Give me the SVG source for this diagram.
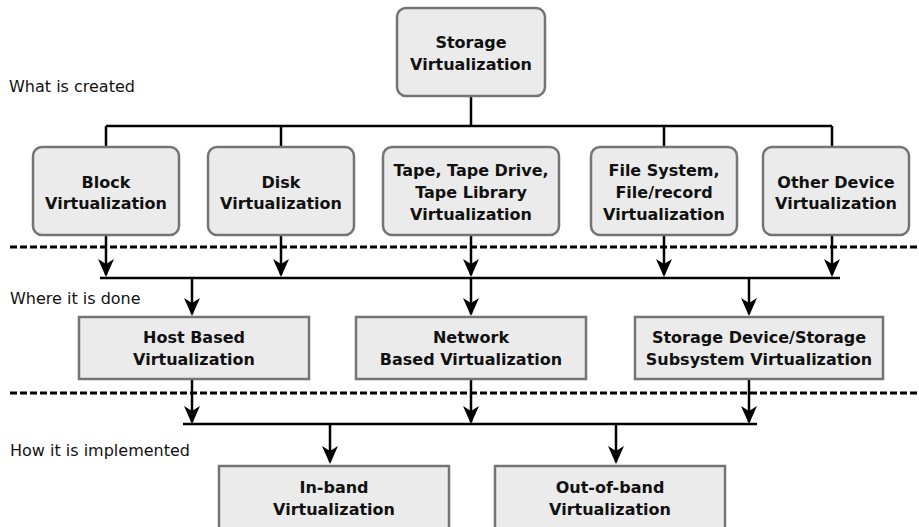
<svg xmlns="http://www.w3.org/2000/svg" width="919" height="527" viewBox="0 0 919 527">
<style>
.box{fill:#ebebeb;stroke:#747474;stroke-width:2.5}
.t{font-family:"DejaVu Sans",Verdana,sans-serif;font-weight:bold;font-size:16px;fill:#111;text-anchor:middle}
.lbl{font-family:"DejaVu Sans",Verdana,sans-serif;font-size:16px;fill:#111}
.ln{stroke:#000;stroke-width:2.5;fill:none}
.dash{stroke:#000;stroke-width:2.8;stroke-dasharray:7 3;fill:none}
</style>
<defs>
<marker id="ah" markerUnits="userSpaceOnUse" viewBox="0 0 18 16" refX="16" refY="8" markerWidth="18" markerHeight="16" orient="auto">
<path d="M0,0 L18,8 L0,16 L5,8 z" fill="#000"/>
</marker>
</defs>
<g id="labels">
<text class="lbl" x="9" y="92">What is created</text>
<text class="lbl" x="10" y="304">Where it is done</text>
<text class="lbl" x="10" y="456">How it is implemented</text>
</g>
<g id="connectors">
<path class="dash" d="M10,247 H919"/>
<path class="dash" d="M10,393 H919"/>
<path class="ln" d="M471,96 V126 M106,126 H832 M106,126 V147 M281,126 V147 M664,126 V147 M832,126 V147"/>
<path class="ln" d="M100,278 H840"/>
<path class="ln" marker-end="url(#ah)" d="M106,235 V275"/>
<path class="ln" marker-end="url(#ah)" d="M281,235 V275"/>
<path class="ln" marker-end="url(#ah)" d="M471,235 V275"/>
<path class="ln" marker-end="url(#ah)" d="M664,235 V275"/>
<path class="ln" marker-end="url(#ah)" d="M832,235 V275"/>
<path class="ln" marker-end="url(#ah)" d="M192,278 V314"/>
<path class="ln" marker-end="url(#ah)" d="M471,278 V314"/>
<path class="ln" marker-end="url(#ah)" d="M749,278 V314"/>
<path class="ln" d="M183,424 H757"/>
<path class="ln" marker-end="url(#ah)" d="M192,379 V422"/>
<path class="ln" marker-end="url(#ah)" d="M471,379 V422"/>
<path class="ln" marker-end="url(#ah)" d="M749,379 V422"/>
<path class="ln" marker-end="url(#ah)" d="M330,424 V462"/>
<path class="ln" marker-end="url(#ah)" d="M616,424 V462"/>
</g>
<g id="storage">
<rect class="box" x="397" y="8" width="148" height="88" rx="9"/>
<text class="t" x="471" y="48">Storage</text>
<text class="t" x="471" y="70">Virtualization</text>
</g>
<g id="block">
<rect class="box" x="33" y="147" width="146" height="88" rx="9"/>
<text class="t" x="106" y="188">Block</text>
<text class="t" x="106" y="209">Virtualization</text>
</g>
<g id="disk">
<rect class="box" x="208" y="147" width="146" height="88" rx="9"/>
<text class="t" x="281" y="188">Disk</text>
<text class="t" x="281" y="209">Virtualization</text>
</g>
<g id="tape">
<rect class="box" x="383" y="147" width="176" height="88" rx="9"/>
<text class="t" x="471" y="176">Tape, Tape Drive,</text>
<text class="t" x="471" y="198">Tape Library</text>
<text class="t" x="471" y="220">Virtualization</text>
</g>
<g id="filesystem">
<rect class="box" x="591" y="147" width="146" height="88" rx="9"/>
<text class="t" x="664" y="176">File System,</text>
<text class="t" x="664" y="198">File/record</text>
<text class="t" x="664" y="220">Virtualization</text>
</g>
<g id="other">
<rect class="box" x="763" y="147" width="146" height="88" rx="9"/>
<text class="t" x="836" y="188">Other Device</text>
<text class="t" x="836" y="209">Virtualization</text>
</g>
<g id="host">
<rect class="box" x="79" y="317" width="230" height="62"/>
<text class="t" x="194" y="343">Host Based</text>
<text class="t" x="194" y="365">Virtualization</text>
</g>
<g id="network">
<rect class="box" x="356" y="317" width="230" height="62"/>
<text class="t" x="471" y="343">Network</text>
<text class="t" x="471" y="365">Based Virtualization</text>
</g>
<g id="storagedevice">
<rect class="box" x="635" y="317" width="248" height="62"/>
<text class="t" x="759" y="343">Storage Device/Storage</text>
<text class="t" x="759" y="365">Subsystem Virtualization</text>
</g>
<g id="inband">
<rect class="box" x="219" y="466" width="230" height="70"/>
<text class="t" x="334" y="493">In-band</text>
<text class="t" x="334" y="515">Virtualization</text>
</g>
<g id="outofband">
<rect class="box" x="495" y="466" width="230" height="70"/>
<text class="t" x="610" y="493">Out-of-band</text>
<text class="t" x="610" y="515">Virtualization</text>
</g>
</svg>
